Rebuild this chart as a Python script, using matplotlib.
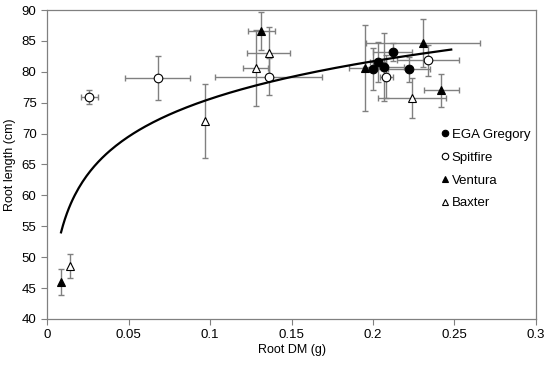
import numpy as np
import matplotlib.pyplot as plt

plt.rcParams['font.family'] = ['Liberation Sans', 'DejaVu Sans']

# EGA Gregory
ega_x = [0.200, 0.203, 0.207, 0.212, 0.222]
ega_y = [80.5, 81.6, 80.7, 83.2, 80.4]
ega_xerr = [0.006, 0.005, 0.012, 0.012, 0.013]
ega_yerr = [3.4, 3.3, 5.5, 1.5, 2.0]

# Spitfire
spit_x = [0.026, 0.068, 0.136, 0.208, 0.234]
spit_y = [75.9, 79.0, 79.2, 79.2, 81.9]
spit_xerr = [0.005, 0.020, 0.033, 0.004, 0.019]
spit_yerr = [1.1, 3.6, 3.0, 3.5, 2.5]

# Ventura
vent_x = [0.0086, 0.1315, 0.195, 0.2305, 0.242]
vent_y = [46.0, 86.6, 80.6, 84.7, 77.0]
vent_xerr = [0.0, 0.0084, 0.010, 0.035, 0.011]
vent_yerr = [2.1, 3.0, 6.9, 3.9, 2.7]

# Baxter
bax_x = [0.0141, 0.097, 0.128, 0.136, 0.224]
bax_y = [48.6, 72.1, 80.6, 83.1, 75.8]
bax_xerr = [0.0, 0.0, 0.0077, 0.013, 0.021]
bax_yerr = [1.95, 6.0, 6.2, 4.2, 3.2]

# logarithmic trend line: y = a + b*ln(x)
trend_a = 95.87
trend_b = 8.80
trend_xmin = 0.0086
trend_xmax = 0.248

fig = plt.figure(figsize=(5.5, 3.68), dpi=100)
ax = fig.add_axes([0.0855, 0.1332, 0.889, 0.8396])

err_kw = dict(ecolor='#808080', elinewidth=1.0, capsize=2.5, capthick=1.0, linestyle='none')

series = [
    (ega_x, ega_y, ega_xerr, ega_yerr, 'o', 'black', 'EGA Gregory'),
    (spit_x, spit_y, spit_xerr, spit_yerr, 'o', 'white', 'Spitfire'),
    (vent_x, vent_y, vent_xerr, vent_yerr, '^', 'black', 'Ventura'),
    (bax_x, bax_y, bax_xerr, bax_yerr, '^', 'white', 'Baxter'),
]

for x, y, xe, ye, m, fc, lab in series:
    ax.errorbar(x, y, xerr=xe, yerr=ye, fmt='none', zorder=2, **err_kw)
    ax.plot(x, y, linestyle='none', marker=m, markersize=6.2, markerfacecolor=fc,
            markeredgecolor='black', markeredgewidth=0.8, zorder=3, label=lab)

tx = np.linspace(trend_xmin, trend_xmax, 200)
ax.plot(tx, trend_a + trend_b * np.log(tx), color='black', linewidth=1.6, zorder=4)

ax.set_xlim(0, 0.3)
ax.set_ylim(40, 90)
ax.set_xticks([0, 0.05, 0.1, 0.15, 0.2, 0.25, 0.3])
ax.set_xticklabels(['0', '0.05', '0.1', '0.15', '0.2', '0.25', '0.3'])
ax.set_yticks(range(40, 91, 5))
ax.tick_params(direction='out', length=4, width=0.8, color='#808080', labelsize=9.5)
for s in ax.spines.values():
    s.set_color('#808080')
    s.set_linewidth(0.9)

ax.set_xlabel('Root DM (g)', fontsize=9, labelpad=2)
ax.set_ylabel('Root length (cm)', fontsize=9, labelpad=4)

leg = ax.legend(loc='upper left', bbox_to_anchor=(0.793, 0.637), frameon=False, fontsize=9.5,
                handlelength=0.5, handletextpad=0.3, labelspacing=0.8, markerscale=0.75,
                borderpad=0)

fig.savefig('out.png', dpi=100)
